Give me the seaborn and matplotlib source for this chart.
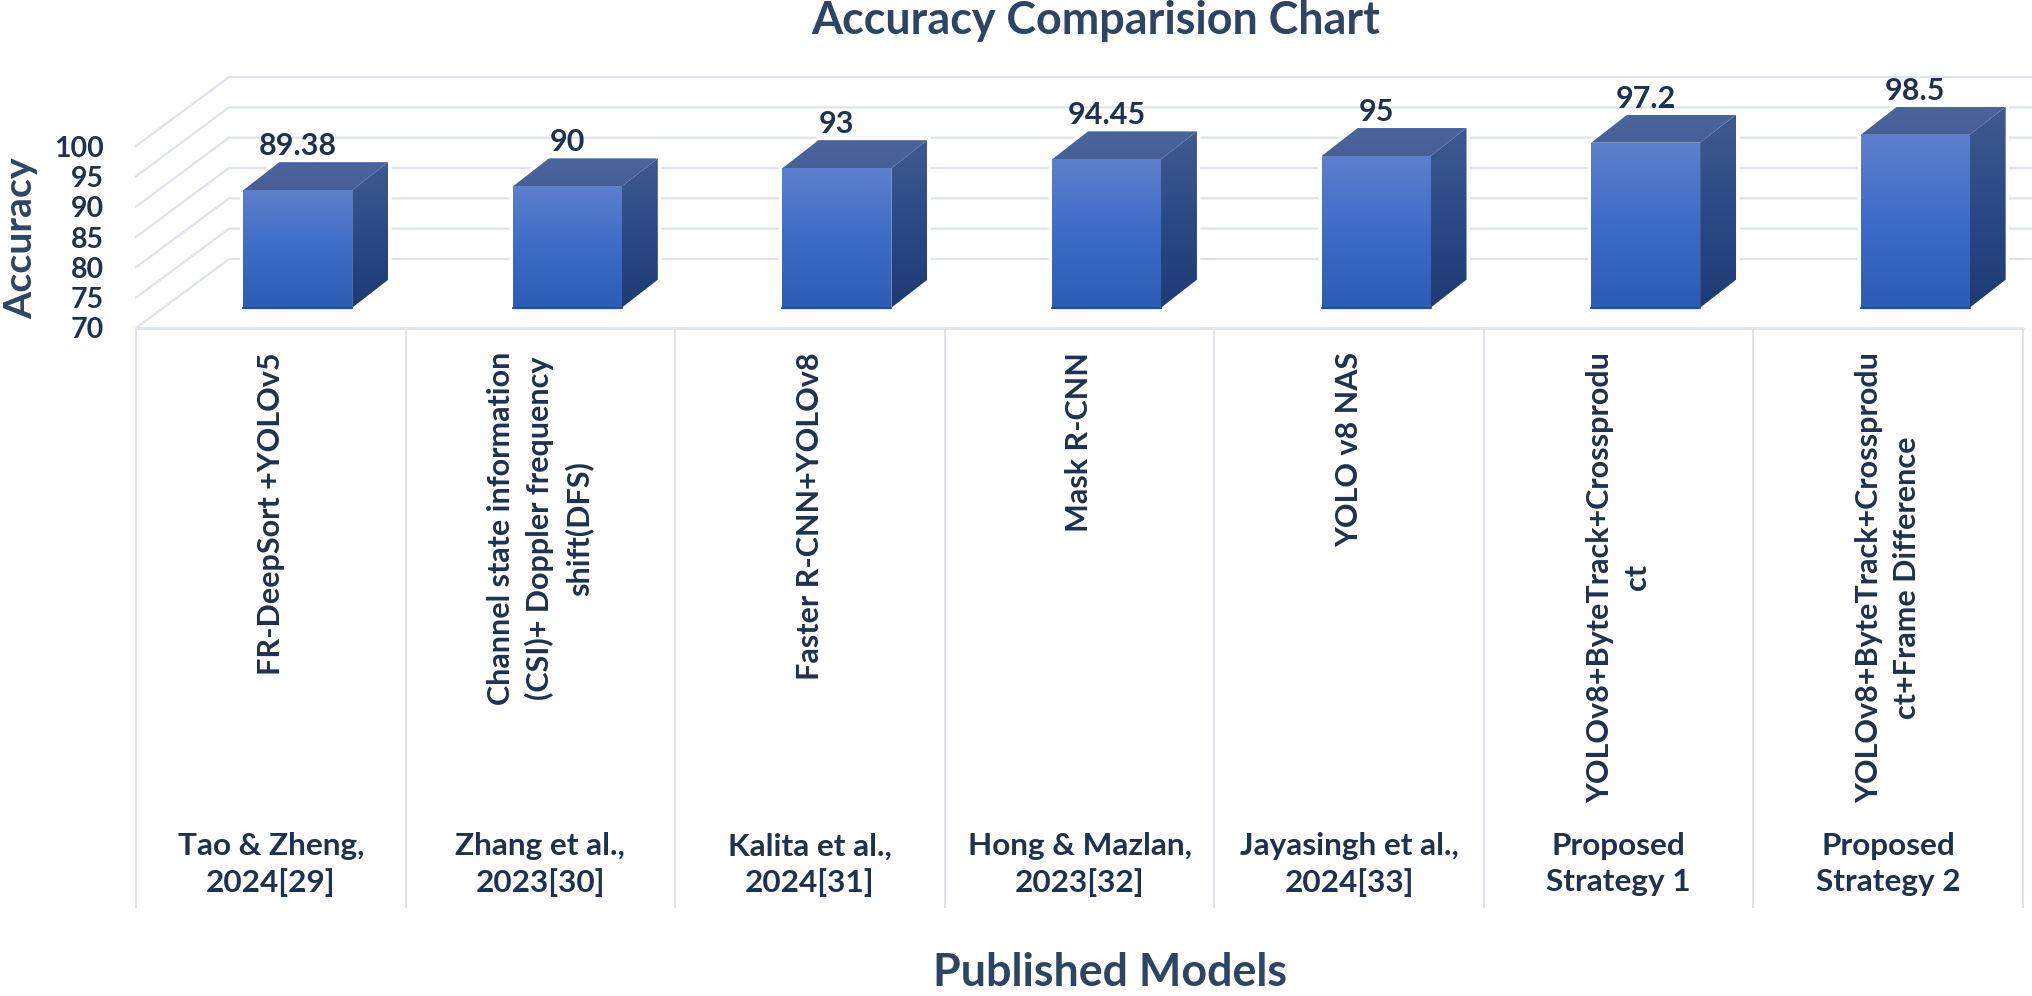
import matplotlib
matplotlib.use("Agg")
import matplotlib.pyplot as plt
from matplotlib.colors import LinearSegmentedColormap
from matplotlib.patches import Polygon
import numpy as np
import pandas as pd
import seaborn as sns

# Data
models = [
    "FR-DeepSort +YOLOv5",
    "Channel state information\n(CSI)+ Doppler frequency\nshift(DFS)",
    "Faster R-CNN+YOLOv8",
    "Mask R-CNN",
    "YOLO v8 NAS",
    "YOLOv8+ByteTrack+Crossprodu\nct",
    "YOLOv8+ByteTrack+Crossprodu\nct+Frame Difference",
]
citations = [
    "Tao & Zheng,\n2024[29]",
    "Zhang et al.,\n2023[30]",
    "Kalita et al.,\n2024[31]",
    "Hong & Mazlan,\n2023[32]",
    "Jayasingh et al.,\n2024[33]",
    "Proposed\nStrategy 1",
    "Proposed\nStrategy 2",
]
accuracy = [89.38, 90, 93, 94.45, 95, 97.2, 98.5]
y_ticks = [70, 75, 80, 85, 90, 95, 100]

df = pd.DataFrame({"Citation": citations, "Accuracy": accuracy})

W, H = 2032, 996
DARK = "#1f3150"
TITLE = "#2d4464"
GRID = "#dfe3ec"

sns.set_theme(style="white")
plt.rcParams["font.family"] = ["Lato", "DejaVu Sans"]

fig = plt.figure(figsize=(W / 100, H / 100), dpi=100, facecolor="white")


def axes_from_px(left, right, top, bottom):
    return fig.add_axes([left / W, 1 - bottom / H, (right - left) / W, (bottom - top) / H])


def fit_size(text, width_px, weight="bold"):
    # font size that gives the text this width in pixels
    t = fig.text(0, 0, text, fontsize=20, fontweight=weight)
    w = t.get_window_extent(fig.canvas.get_renderer()).width
    t.remove()
    return 20 * width_px / w


tick_size = fit_size("100", 50)
value_size = fit_size("89.38", 78)
cite_size = fit_size("Tao & Zheng,", 186)
model_size = np.mean([fit_size("FR-DeepSort +YOLOv5", 311),
                      fit_size("Channel state information", 371),
                      fit_size("YOLOv8+ByteTrack+Crossprodu", 446)])

# floor front edge plane: ticks, grid and the table below
PX_CAT = (2023 - 136) / 7
PX_VAL = (328 - 146) / 30
ax = axes_from_px(136, 2023, 146, 328)
ax.set_xlim(-0.5, 6.5)
ax.set_ylim(70, 100)
ax.patch.set_alpha(0)
sns.despine(ax=ax, left=True, bottom=True)

# oblique wall offset, in data units
wall_dx = 93 / PX_CAT
wall_dy = 69 / PX_VAL
for v in y_ticks:
    ax.plot([-0.5, -0.5 + wall_dx, 6.5 + wall_dx], [v, v + wall_dy, v + wall_dy],
            color=GRID, lw=1.6, clip_on=False, zorder=1)
ax.plot([-0.5, 6.5], [70, 70], color=GRID, lw=2, clip_on=False, zorder=1)

table_bottom = -(908 - 328) / (328 - 146)
ax.vlines(np.arange(-0.5, 7), table_bottom, 0, color=GRID, lw=1.4,
          transform=ax.get_xaxis_transform(), clip_on=False)

ax.set_yticks(y_ticks)
ax.set_yticklabels([str(v) for v in y_ticks], fontsize=tick_size, color=DARK, fontweight="bold")
ax.tick_params(axis="y", length=0, pad=23)
ax.set_xticks(range(len(citations)))
ax.set_xticklabels(citations, fontsize=cite_size, color=DARK, fontweight="bold",
                   linespacing=41 / (0.97 * cite_size * 100 / 72))
ax.tick_params(axis="x", length=0, pad=363)
ax.set_xlabel("")
ax.set_ylabel("")

model_top = -(352 - 328) / (328 - 146)
for i, name in enumerate(models):
    ax.text(i, model_top, name, rotation=90, ha="center", va="top", ma="center",
            transform=ax.get_xaxis_transform(), fontsize=model_size, color=DARK,
            fontweight="bold", linespacing=42 / (0.97 * model_size * 100 / 72))

fig.text(1095.5 / W, 1 - 34 / H, "Accuracy Comparision Chart", ha="center", va="baseline",
         fontsize=fit_size("Accuracy Comparision Chart", 569), fontweight="bold", color=TITLE)
fig.text(21 / W, 1 - 238 / H, "Accuracy", rotation=90, ha="center", va="center",
         fontsize=fit_size("Accuracy", 161), fontweight="bold", color=TITLE)
fig.text(1110 / W, 1 - 986 / H, "Published Models", ha="center", va="baseline",
         fontsize=fit_size("Published Models", 356), fontweight="bold", color=TITLE)

# plane of the bar front faces, set back from the floor edge
ax_bars = axes_from_px(136 + 27, 2023 + 27, 328 - 20.3 - 30 * PX_VAL, 328 - 20.3)
ax_bars.patch.set_alpha(0)
sns.barplot(data=df, x="Citation", y="Accuracy", width=0.404, color="#3d6cc7",
            ax=ax_bars, saturation=1, zorder=3)
ax_bars.set_xlim(-0.5, 6.5)
ax_bars.set_ylim(70, 100)
ax_bars.axis("off")
ax_bars.autoscale(False)

side_dx = 36 / PX_CAT
side_dy = 28 / PX_VAL


def gradient_face(verts, colours, z):
    poly = Polygon(verts, closed=True, transform=ax_bars.transData, facecolor="none", edgecolor="none")
    ax_bars.add_patch(poly)
    poly.set_clip_on(False)
    xs, ys = zip(*verts)
    cmap = LinearSegmentedColormap.from_list("face", colours)
    im = ax_bars.imshow(np.linspace(0, 1, 256).reshape(-1, 1), cmap=cmap, aspect="auto",
                        extent=[min(xs), max(xs), min(ys), max(ys)], origin="upper", zorder=z)
    # top faces stick out above the axes box
    im.set_clip_box(fig.bbox)
    im.set_clip_path(poly)


for i, (p, v) in enumerate(zip(ax_bars.patches, accuracy)):
    x0, x1 = p.get_x(), p.get_x() + p.get_width()
    # white halo where the grid stops around the bar
    outline = [(x0, 70), (x1, 70), (x1 + side_dx, 70 + side_dy), (x1 + side_dx, v + side_dy),
               (x0 + side_dx, v + side_dy), (x0, v)]
    halo = Polygon(outline, closed=True, facecolor="white", edgecolor="white", lw=5, zorder=2)
    ax_bars.add_patch(halo)
    halo.set_clip_on(False)
    gradient_face([(x0, 70), (x1, 70), (x1, v), (x0, v)], ["#5d80cc", "#3d6cc7", "#2d5cb3"], 4)
    gradient_face([(x1, 70), (x1 + side_dx, 70 + side_dy), (x1 + side_dx, v + side_dy), (x1, v)],
                  ["#3f5a8f", "#2b4a85", "#1d3a75"], 4)
    gradient_face([(x0, v), (x1, v), (x1 + side_dx, v + side_dy), (x0 + side_dx, v + side_dy)],
                  ["#4a659e", "#485f95"], 4)
    ax_bars.plot([x0, x1], [70, 70], color="#1b4fb0", lw=1.6, zorder=5, clip_on=False)
    ax_bars.annotate(f"{v:g}", (i, v + side_dy), xytext=(0, 11.5), textcoords="offset points",
                     ha="center", va="center", fontsize=value_size, color=DARK, fontweight="bold",
                     zorder=6, annotation_clip=False)

fig.savefig("out.png", dpi=100, facecolor="white")
